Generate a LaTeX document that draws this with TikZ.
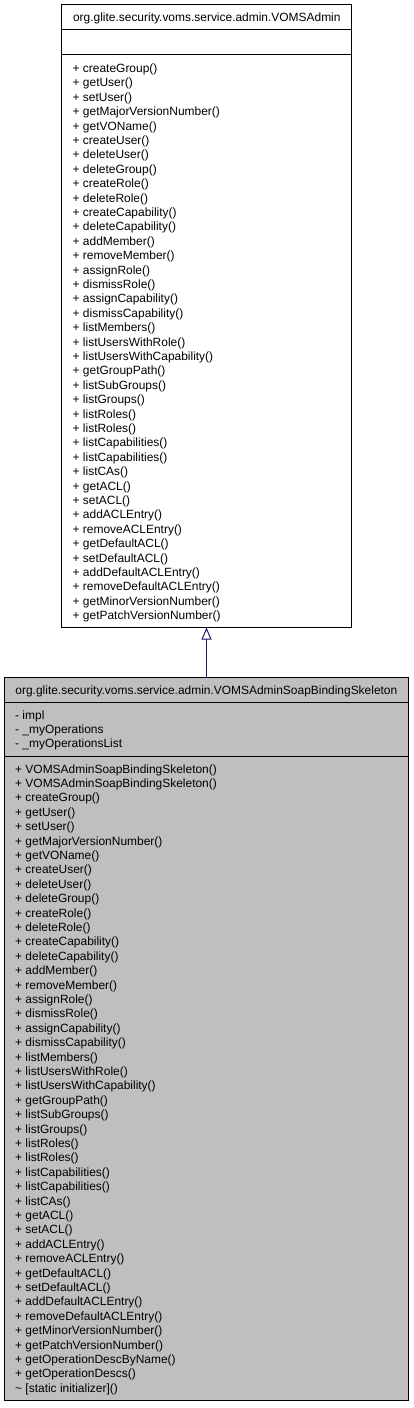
\documentclass[tikz,border=0pt]{standalone}
\usepackage{fontspec}
\setmainfont{Liberation Sans}
\usetikzlibrary{arrows.meta}
\definecolor{boxgray}{HTML}{BFBFBF}
\definecolor{edgeblue}{HTML}{191970}
\tikzset{
  umlbox/.style={draw=black, line width=1bp},
  sepline/.style={draw=black, line width=1bp},
  txt/.style={inner sep=0pt, font=\fontsize{12}{14.4}\selectfont},
  inherit/.style={draw=edgeblue, line width=1bp, -{Triangle[open, length=12bp, width=10bp]}}
}
\begin{document}
\begin{tikzpicture}[x=1bp, y=-1bp]
\useasboundingbox (0,0) rectangle (413,1408);
% ---------- base class ----------
\draw[umlbox, fill=white] (61.5,4.5) rectangle (351.5,627.5);
\coordinate (topS) at (206.5,627.5);
\draw[sepline] (61.5,29.5) -- (351.5,29.5);
\draw[sepline] (61.5,54.5) -- (351.5,54.5);
\node[txt, anchor=base] (t1) at (206.8,21.5) {org.glite.security.voms.service.admin.VOMSAdmin};
\foreach \s [count=\i] in {
+ createGroup(),+ getUser(),+ setUser(),+ getMajorVersionNumber(),+ getVOName(),
+ createUser(),+ deleteUser(),+ deleteGroup(),+ createRole(),+ deleteRole(),
+ createCapability(),+ deleteCapability(),+ addMember(),+ removeMember(),+ assignRole(),
+ dismissRole(),+ assignCapability(),+ dismissCapability(),+ listMembers(),+ listUsersWithRole(),
+ listUsersWithCapability(),+ getGroupPath(),+ listSubGroups(),+ listGroups(),+ listRoles(),
+ listRoles(),+ listCapabilities(),+ listCapabilities(),+ listCAs(),+ getACL(),
+ setACL(),+ addACLEntry(),+ removeACLEntry(),+ getDefaultACL(),+ setDefaultACL(),
+ addDefaultACLEntry(),+ removeDefaultACLEntry(),+ getMinorVersionNumber(),+ getPatchVersionNumber()}
  \node[txt, anchor=base west] (am\i) at (72.5,{72.5+14.4*(\i-1)}) {\s};
% ---------- derived class ----------
\draw[umlbox, fill=boxgray] (4.5,677.5) rectangle (408.5,1400.5);
\coordinate (botN) at (206.5,677.5);
\draw[sepline] (4.5,702.5) -- (408.5,702.5);
\draw[sepline] (4.5,756.5) -- (408.5,756.5);
\node[txt, anchor=base] (t2) at (206.4,694.5) {org.glite.security.voms.service.admin.VOMSAdminSoapBindingSkeleton};
\foreach \s [count=\i] in {- impl,- \_myOperations,- \_myOperationsList}
  \node[txt, anchor=base west] (ba\i) at (15,{719+14.4*(\i-1)}) {\s};
\foreach \s [count=\i] in {
+ VOMSAdminSoapBindingSkeleton(),+ VOMSAdminSoapBindingSkeleton(),
+ createGroup(),+ getUser(),+ setUser(),+ getMajorVersionNumber(),+ getVOName(),
+ createUser(),+ deleteUser(),+ deleteGroup(),+ createRole(),+ deleteRole(),
+ createCapability(),+ deleteCapability(),+ addMember(),+ removeMember(),+ assignRole(),
+ dismissRole(),+ assignCapability(),+ dismissCapability(),+ listMembers(),+ listUsersWithRole(),
+ listUsersWithCapability(),+ getGroupPath(),+ listSubGroups(),+ listGroups(),+ listRoles(),
+ listRoles(),+ listCapabilities(),+ listCapabilities(),+ listCAs(),+ getACL(),
+ setACL(),+ addACLEntry(),+ removeACLEntry(),+ getDefaultACL(),+ setDefaultACL(),
+ addDefaultACLEntry(),+ removeDefaultACLEntry(),+ getMinorVersionNumber(),+ getPatchVersionNumber(),
+ getOperationDescByName(),+ getOperationDescs(),{\textasciitilde\ [static initializer]()}}
  \node[txt, anchor=base west] (bm\i) at (15,{773+14.4*(\i-1)}) {\s};
% ---------- inheritance ----------
\draw[inherit] (botN) -- (topS);
\end{tikzpicture}
\end{document}
